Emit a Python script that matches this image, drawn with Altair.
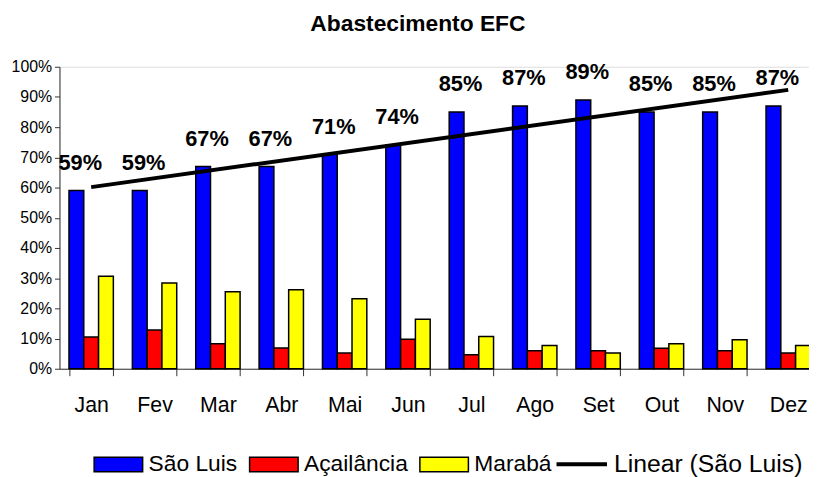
import altair as alt
import pandas as pd

months = ["Jan", "Fev", "Mar", "Abr", "Mai", "Jun", "Jul", "Ago", "Set", "Out", "Nov", "Dez"]
month_index = [1, 2, 3, 4, 5, 6, 7, 8, 9, 10, 11, 12]
sao_luis = [0.59, 0.59, 0.67, 0.67, 0.71, 0.74, 0.85, 0.87, 0.89, 0.85, 0.85, 0.87]
acailandia = [0.105, 0.128, 0.083, 0.069, 0.052, 0.098, 0.046, 0.060, 0.060, 0.068, 0.060, 0.052]
maraba = [0.306, 0.284, 0.255, 0.262, 0.232, 0.164, 0.107, 0.077, 0.052, 0.083, 0.096, 0.077]
series = ["São Luis", "Açailância", "Marabá"]
trend_name = "Linear (São Luis)"
bar_colors = ["#0000FF", "#FF0000", "#FFFF00"]
y_ticks = [0.0, 0.1, 0.2, 0.3, 0.4, 0.5, 0.6, 0.7, 0.8, 0.9, 1.0]

rows = []
for name, vals in zip(series, [sao_luis, acailandia, maraba]):
    for m, i, v in zip(months, month_index, vals):
        rows.append({"month": m, "idx": i, "serie": name, "val": v})
df = pd.DataFrame(rows)

FONT = "Liberation Sans"

x_scale = alt.Scale(domain=months, paddingInner=0.3, paddingOuter=0.15)
y_scale = alt.Scale(domain=[0, 1], nice=False)

bar_legend = alt.Legend(
    title=None, orient="none", legendX=34, legendY=376, direction="horizontal",
    labelFont=FONT, labelFontSize=23, labelColor="black", labelOffset=5,
    columnPadding=9, symbolSize=2401, labelLimit=400,
    symbolType="M-1,-0.3H1V0.3H-1Z", symbolStrokeColor="black", symbolStrokeWidth=1.5,
    symbolOpacity=1,
)
line_legend = alt.Legend(
    title=None, orient="none", legendX=500, legendY=374, direction="horizontal",
    labelFont=FONT, labelFontSize=25, labelColor="black", labelOffset=5,
    symbolSize=2601, labelLimit=400,
    symbolType="M-1,0H1", symbolStrokeColor="black", symbolStrokeWidth=4,
)

x_axis = alt.Axis(title=None, labelAngle=0, labelFont=FONT, labelFontSize=21.5, labelColor="black",
                  tickBand="extent", tickSize=7, labelPadding=19, domainColor="#333333",
                  tickColor="#333333", grid=False)
y_axis = alt.Axis(title=None, values=y_ticks, format=".0%", labelFont=FONT, labelFontSize=16,
                  labelColor="black", tickSize=5, labelPadding=3, domainColor="#333333",
                  tickColor="#333333", grid=False, labelOverlap=False, tickCount=11)

X = alt.X("month:N", scale=x_scale, axis=x_axis, sort=months)
Y = alt.Y("val:Q", scale=y_scale, axis=y_axis)

base = alt.Chart(df)

bars = base.mark_bar(stroke="black", strokeWidth=1.5).encode(
    x=X,
    xOffset=alt.XOffset("serie:N", scale=alt.Scale(domain=series, paddingInner=0, paddingOuter=0), sort=series),
    y=Y,
    color=alt.Color("serie:N", scale=alt.Scale(domain=series, range=bar_colors), legend=bar_legend),
)

labels = base.transform_filter(alt.datum.serie == "São Luis").mark_text(
    font=FONT, fontSize=22, fontWeight="bold", color="black", dx=-11, dy=-21,
    baseline="alphabetic", align="center"
).encode(
    x=X,
    y=Y,
    text=alt.Text("val:Q", format=".0%"),
)

month_expr = "[" + ",".join(f"'{m}'" for m in months) + "][round(datum.idx) - 1]"
trend = base.transform_filter(alt.datum.serie == "São Luis").transform_regression(
    "idx", "val", method="linear"
).transform_calculate(
    month=month_expr, trend=f"'{trend_name}'"
).mark_line(strokeWidth=4).encode(
    x=X,
    y=Y,
    color=alt.Color("trend:N", scale=alt.Scale(domain=[trend_name], range=["#000000"]), legend=line_legend),
)

chart = alt.layer(bars, trend, labels).resolve_scale(color="independent").properties(
    width=768, height=305,
    autosize=alt.AutoSizeParams(type="none"),
    padding={"left": 52, "top": 57, "right": -11, "bottom": 110},
    title=alt.TitleParams("Abastecimento EFC", font=FONT, fontSize=23, fontWeight="bold",
                          color="black", anchor="middle", dx=-22, offset=5, baseline="alphabetic"),
).configure_view(stroke=None).configure(background="white")

chart.save("out.html", embed_options={"renderer": "svg", "actions": False})
